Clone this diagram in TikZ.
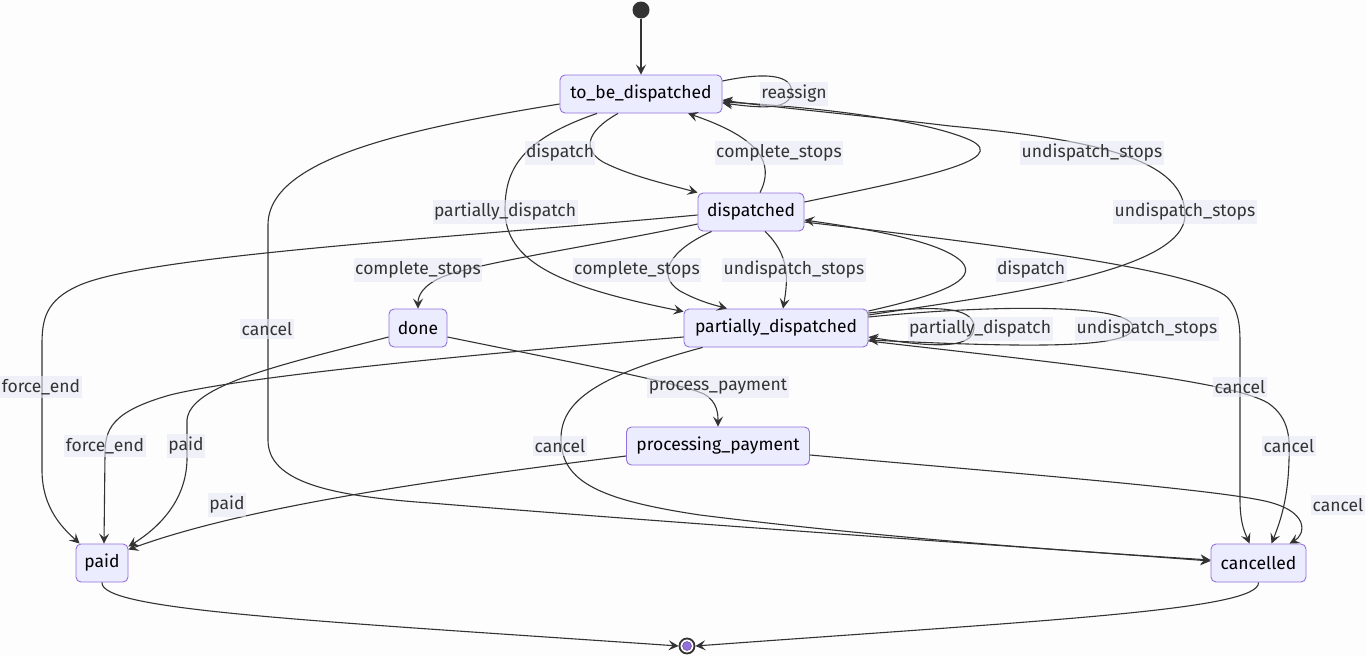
\documentclass[tikz,border=0pt]{standalone}
\usepackage{fontspec}
\setmainfont{Fira Sans}
\usetikzlibrary{arrows.meta}
\definecolor{nodefill}{HTML}{ECECFF}
\definecolor{nodeborder}{HTML}{9370DB}
\definecolor{edgec}{HTML}{333333}
\definecolor{lblbg}{HTML}{E8E8F6}
\definecolor{bgc}{HTML}{FDFDFD}
\begin{document}
\begin{tikzpicture}[x=1pt,y=-1pt,
  state/.style={draw=nodeborder, fill=nodefill, rounded corners=5pt, line width=0.9pt,
    minimum height=38pt, inner sep=0pt, font=\fontsize{17.5}{20}\selectfont, text=black},
  edge/.style={draw=edgec, line width=1.1pt, -{Stealth[length=10pt,width=10pt,inset=4pt]}},
  lbl/.style={fill=lblbg, fill opacity=0.6, text opacity=1, text=edgec, inner xsep=1.5pt,
    inner ysep=3.5pt, font=\fontsize{17.5}{20}\selectfont}
]
\useasboundingbox[fill=bgc] (0,0) rectangle (1366,656);

% states
\node[circle, fill=edgec, minimum size=17pt, inner sep=0pt] (s) at (641,10) {};
\node[state, minimum width=162pt] (tbd) at (641,94) {to\_be\_dispatched};
\node[state, minimum width=106pt] (dis) at (751,212) {dispatched};
\node[state, minimum width=58pt] (done) at (418,328) {done};
\node[state, minimum width=184pt] (pd) at (776,328) {partially\_dispatched};
\node[state, minimum width=183pt] (pp) at (718,446) {processing\_payment};
\node[state, minimum width=52pt] (paid) at (102,563) {paid};
\node[state, minimum width=95pt] (can) at (1258.5,563) {cancelled};
\node[circle, draw=edgec, line width=1.8pt, fill=white, minimum size=15pt, inner sep=0pt] (e) at (687,646) {};
\node[circle, fill=nodeborder, draw=nodeborder!70!black, line width=0.5pt, minimum size=9pt, inner sep=0pt] (ei) at (e) {};

% edges
\draw[edge] (s.south) -- (tbd.north);
\draw[edge] ([yshift=13pt]tbd.east) .. controls (775,70) and (795,78) .. (791,95)
  .. controls (787,110) and (760,108) .. ([yshift=-9pt]tbd.east);
\draw[edge] ([xshift=-23pt]tbd.south) .. controls (585,132) and (583,150) .. (603,162)
  .. controls (630,176) and (670,185) .. (dis.north west);
\draw[edge] ([xshift=-44pt]tbd.south) .. controls (520,140) and (505,170) .. (505,210)
  .. controls (505,262) and (560,287) .. ([yshift=-3pt]pd.north west);
\draw[edge] ([yshift=-10pt]tbd.west) .. controls (400,130) and (268,160) .. (268,225)
  -- (268,440) .. controls (268,482) and (330,496) .. (430,503)
  .. controls (700,525) and (1000,545) .. ([yshift=2pt]can.west);
\draw[edge] ([xshift=9pt]dis.north) .. controls (775,163) and (760,138) .. ([xshift=47pt]tbd.south);
\draw[edge] ([yshift=10pt]dis.east) .. controls (920,178) and (1012,160) .. (970,140)
  .. controls (920,118) and (800,106) .. ([yshift=-8pt]tbd.east);
\draw[edge] ([yshift=13pt]pd.east) .. controls (1000,295) and (1185,272) .. (1185,215)
  .. controls (1185,160) and (1100,140) .. (950,126)
  .. controls (850,114) and (760,106) .. ([yshift=-6pt]tbd.east);
\draw[edge] ([yshift=-12pt]dis.west) .. controls (600,245) and (480,262) .. (442,277)
  .. controls (422,286) and (418,296) .. (done.north);
\draw[edge] ([xshift=14pt]dis.south west) .. controls (670,250) and (655,275) .. (680,291)
  .. controls (700,302) and (718,306) .. ([xshift=-49pt]pd.north);
\draw[edge] ([xshift=14pt]dis.south) .. controls (790,255) and (788,280) .. ([xshift=7pt]pd.north);
\draw[edge] ([yshift=17pt]pd.east) .. controls (940,295) and (978,280) .. (962,262)
  .. controls (940,240) and (860,228) .. ([yshift=-8pt]dis.east);
\draw[edge] ([yshift=-3pt]dis.west) .. controls (450,238) and (150,255) .. (80,285)
  .. controls (45,300) and (42,320) .. (42,345) -- (42,470)
  .. controls (42,510) and (65,530) .. ([xshift=4pt]paid.north west);
\draw[edge] ([yshift=-10pt]dis.east) .. controls (1000,245) and (1200,270) .. (1228,298)
  .. controls (1240,312) and (1240,330) .. (1240,345) -- (1240,500)
  .. controls (1240,525) and (1246,535) .. ([xshift=39pt]can.north west);
\draw[edge] ([yshift=15pt]pd.east) .. controls (930,306) and (975,305) .. (974,328)
  .. controls (973,350) and (930,347) .. ([yshift=-9pt]pd.east);
\draw[edge] ([yshift=11pt]pd.east) .. controls (1000,304) and (1135,304) .. (1133,328)
  .. controls (1131,351) and (1000,346) .. ([yshift=-12pt]pd.east);
\draw[edge] ([yshift=-9pt]pd.west) .. controls (500,352) and (250,375) .. (170,395)
  .. controls (110,412) and (105,430) .. (105,455) -- ([xshift=2pt]paid.north);
\draw[edge] ([xshift=19pt]pd.south west) .. controls (600,375) and (560,400) .. (561,440)
  .. controls (562,482) and (600,500) .. (700,515)
  .. controls (900,540) and (1100,553) .. ([yshift=3pt]can.west);
\draw[edge] ([yshift=-13pt]pd.east) .. controls (1050,362) and (1230,380) .. (1268,403)
  .. controls (1290,418) and (1290,440) .. (1289,460)
  .. controls (1288,500) and (1280,522) .. ([xshift=61pt]can.north west);
\draw[edge] ([yshift=-9pt]done.west) .. controls (280,365) and (190,385) .. (187,420)
  -- (187,460) .. controls (186,500) and (160,527) .. ([yshift=-3pt]paid.north east);
\draw[edge] ([yshift=-9pt]done.east) .. controls (560,360) and (680,383) .. (704,394)
  .. controls (718,402) and (718,415) .. (pp.north);
\draw[edge] ([yshift=-10pt]pp.west) .. controls (450,478) and (250,505) .. ([yshift=-6pt]paid.north east);
\draw[edge] ([yshift=-9pt]pp.east) .. controls (1000,472) and (1200,488) .. (1260,500)
  .. controls (1312,510) and (1305,535) .. ([xshift=79pt]can.north west);
\draw[edge] (paid.south) .. controls (100,610) and (300,620) .. (e.west);
\draw[edge] (can.south) .. controls (1260,610) and (1050,620) .. (e.east);

% labels
\node[lbl] (l1) at (794,94) {reassign};
\node[lbl] (l2) at (560,153) {dispatch};
\node[lbl] (l3) at (779,153) {complete\_stops};
\node[lbl] (l4) at (1092,153) {undispatch\_stops};
\node[lbl] (l5) at (505,212) {partially\_dispatch};
\node[lbl] (l6) at (1185,212) {undispatch\_stops};
\node[lbl] (l7) at (418,270) {complete\_stops};
\node[lbl] (l8) at (637,270) {complete\_stops};
\node[lbl] (l9) at (794,270) {undispatch\_stops};
\node[lbl] (l10) at (1031,270) {dispatch};
\node[lbl] (l11) at (267,329) {cancel};
\node[lbl] (l12) at (980,329) {partially\_dispatch};
\node[lbl] (l13) at (1147,329) {undispatch\_stops};
\node[lbl] (l14) at (41,387) {force\_end};
\node[lbl] (l15) at (718,387) {process\_payment};
\node[lbl] (l16) at (1240,387) {cancel};
\node[lbl] (l17) at (105,446) {force\_end};
\node[lbl] (l18) at (186,446) {paid};
\node[lbl] (l19) at (560,446) {cancel};
\node[lbl] (l20) at (1289,446) {cancel};
\node[lbl] (l21) at (227,505) {paid};
\node[lbl] (l22) at (1338,505) {cancel};
\end{tikzpicture}
\end{document}
